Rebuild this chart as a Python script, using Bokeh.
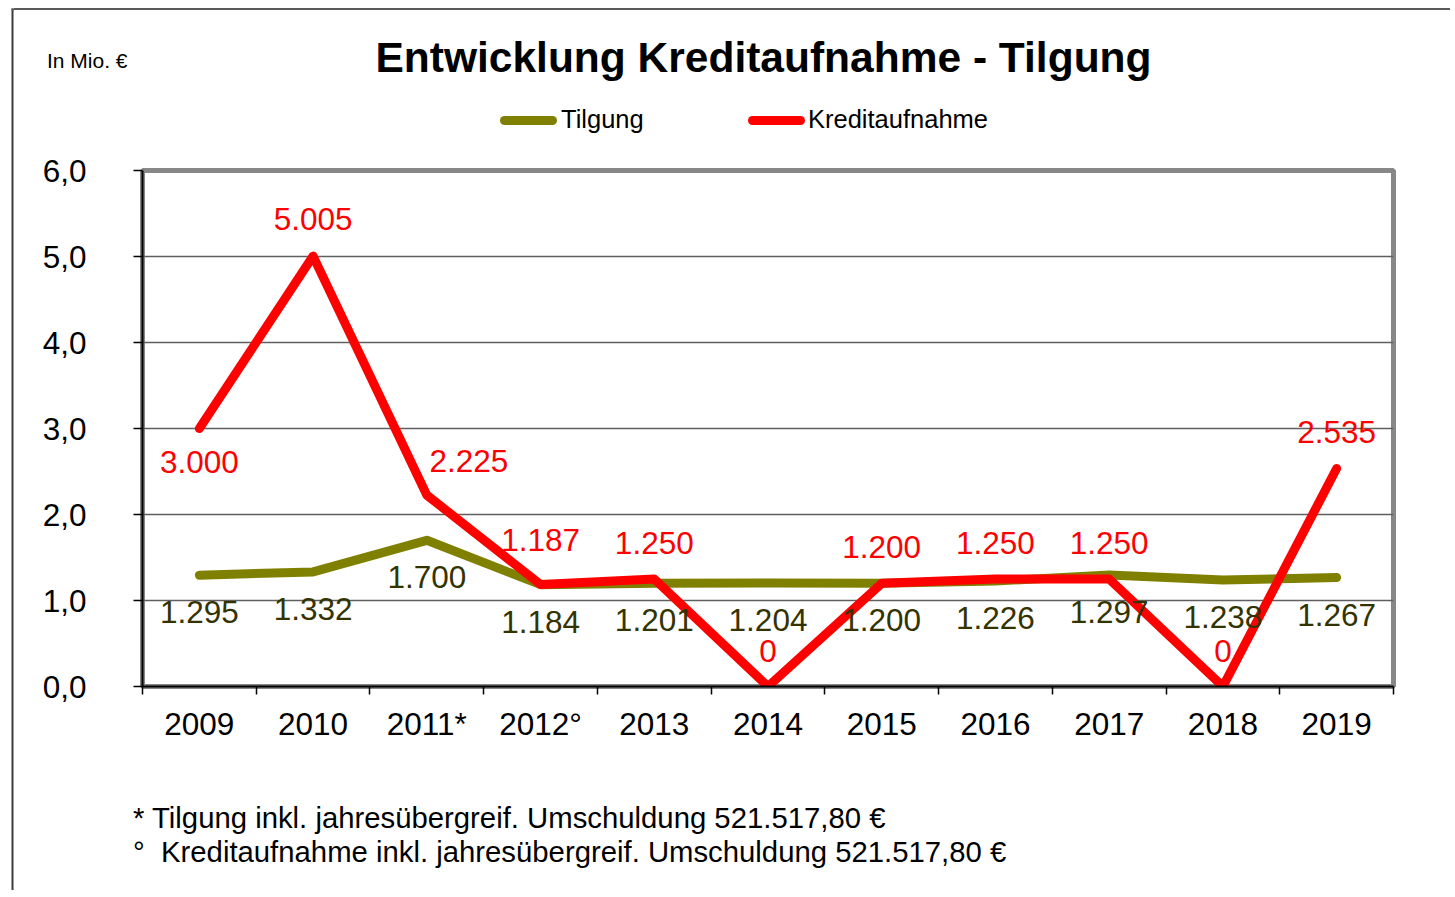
from bokeh.plotting import figure
from bokeh.layouts import row, column
from bokeh.models import (FixedTicker, Div, BoxAnnotation, ColumnDataSource, Range1d)
from bokeh.embed import file_html
from bokeh.resources import INLINE
from bokeh.core.properties import value

# ---------------- data ----------------
years = ["2009", "2010", "2011*", "2012°", "2013", "2014", "2015", "2016", "2017", "2018", "2019"]
tilgung = [1.295, 1.332, 1.700, 1.184, 1.201, 1.204, 1.200, 1.226, 1.297, 1.238, 1.267]
kredit = [3.000, 5.005, 2.225, 1.187, 1.250, 0.0, 1.200, 1.250, 1.250, 0.0, 2.535]
y_ticks = [0, 1, 2, 3, 4, 5, 6]
y_tick_labels = ["0,0", "1,0", "2,0", "3,0", "4,0", "5,0", "6,0"]
series_names = ["Tilgung", "Kreditaufnahme"]

title_text = "Entwicklung Kreditaufnahme - Tilgung"
unit_text = "In Mio. €"
foot1 = "* Tilgung inkl. jahresübergreif. Umschuldung 521.517,80 €"
foot2 = "°  Kreditaufnahme inkl. jahresübergreif. Umschuldung 521.517,80 €"

# label placement (pixels, screen: +y = down)
kredit_dx = [0, 0, 42, 0, 0, 0, 0, 0, 0, 0, 0]
kredit_dy = [33, -37, -34, -44, -36, -36, -36, -36, -36, -36, -36]
tilgung_dy = [37] * 11

FONT = "Liberation Sans"
OLIVE = "#808000"
RED = "#FF0000"
BORDER_L = "#3c3c3c"
BORDER_T = "#5a5a5a"
LW = 9

W = 1450          # total width
STRIP = 14        # left strip carrying the outer chart border
TOP_H, MAIN_H, BOT_H = 150, 610, 130
H = TOP_H + MAIN_H + BOT_H


def fmt(v):
    return "0" if v == 0 else f"{v:.3f}"


# ---------------- left strip (outer chart border) ----------------
strip = figure(width=STRIP, height=H, x_range=Range1d(0, STRIP), y_range=Range1d(H, 0),
               output_backend="svg", toolbar_location=None,
               x_axis_location=None, y_axis_location=None, min_border=0)
strip.outline_line_color = None
strip.xgrid.visible = False
strip.ygrid.visible = False
strip.add_layout(BoxAnnotation(left=12, right=100000, top=9, bottom=100000,
                               fill_alpha=0, line_alpha=0))
strip.add_layout(BoxAnnotation(left=11, right=13, top=8, bottom=100000,
                               fill_color=BORDER_L, fill_alpha=1, line_alpha=0))
strip.add_layout(BoxAnnotation(left=11, right=100000, top=8, bottom=10,
                               fill_color=BORDER_T, fill_alpha=1, line_alpha=0))


def span(left, cy, text, size, extra=""):
    return (f'<span style="position:absolute;left:{left}px;top:{cy - size / 2}px;'
            f'font-size:{size}px;line-height:1;white-space:pre;{extra}">{text}</span>')


def swatch(left, cy, color, length=57, thick=9):
    return (f'<div style="position:absolute;left:{left}px;top:{cy - thick / 2}px;'
            f'width:{length}px;height:{thick}px;border-radius:{thick / 2}px;'
            f'background:{color};"></div>')


# ---------------- top: title, unit, legend ----------------
ox = STRIP
top_html = (
    f'<div style="position:relative;width:{W - STRIP}px;height:{TOP_H}px;'
    f'font-family:\'{FONT}\';color:black;overflow:hidden;">'
    f'<div style="position:absolute;left:0;top:8px;width:100%;height:2px;background:{BORDER_T};"></div>'
    + span(47 - ox, 60, unit_text, 21)
    + f'<span style="position:absolute;left:{763.5 - ox}px;top:{58 - 21.25}px;'
      f'transform:translateX(-50%);font-size:42.5px;line-height:1;font-weight:bold;'
      f'white-space:pre;">{title_text}</span>'
    + swatch(500 - ox, 120, OLIVE) + span(561 - ox, 120, series_names[0], 25.5)
    + swatch(748 - ox, 120, RED) + span(808 - ox, 120, series_names[1], 25.5)
    + '</div>'
)
top = Div(text=top_html, width=W - STRIP, height=TOP_H, margin=0)

# ---------------- main chart ----------------
xs = list(range(len(years)))
src = ColumnDataSource(dict(
    x=xs, tilgung=tilgung, kredit=kredit,
    tl=[fmt(v) for v in tilgung], kl=[fmt(v) for v in kredit],
    kdx=kredit_dx, kdy=kredit_dy, tdy=tilgung_dy,
))

p = figure(width=W - STRIP, height=MAIN_H,
           x_range=Range1d(-0.5, len(years) - 0.5), y_range=Range1d(0, 6),
           output_backend="svg", toolbar_location=None,
           min_border_left=142 - STRIP, min_border_right=W - 1393,
           min_border_top=170 - TOP_H, min_border_bottom=TOP_H + MAIN_H - 686)
p.outline_line_color = "#878787"
p.outline_line_width = 5
p.background_fill_color = "white"
p.border_fill_color = "white"

p.xaxis.ticker = FixedTicker(ticks=xs, minor_ticks=[i - 0.5 for i in range(len(years) + 1)])
p.xaxis.major_label_overrides = {i: years[i] for i in xs}
p.xaxis.major_tick_out = 0
p.xaxis.major_tick_in = 0
p.xaxis.minor_tick_out = 8
p.xaxis.minor_tick_in = 0
p.xaxis.minor_tick_line_color = "black"
p.xaxis.minor_tick_line_width = 1.5
p.xaxis.axis_line_color = "black"
p.xaxis.axis_line_width = 2
p.xaxis.major_label_text_font = FONT
p.xaxis.major_label_text_font_size = "31.5px"
p.xaxis.major_label_text_color = "black"
p.xaxis.major_label_standoff = 11

p.yaxis.ticker = FixedTicker(ticks=y_ticks, minor_ticks=[])
p.yaxis.major_label_overrides = {t: l for t, l in zip(y_ticks, y_tick_labels)}
p.yaxis.major_tick_out = 9
p.yaxis.major_tick_in = 0
p.yaxis.major_tick_line_color = "black"
p.yaxis.major_tick_line_width = 1.5
p.yaxis.axis_line_color = "black"
p.yaxis.axis_line_width = 2
p.yaxis.major_label_text_font = FONT
p.yaxis.major_label_text_font_size = "31.5px"
p.yaxis.major_label_text_color = "black"
p.yaxis.major_label_standoff = 47

p.xgrid.visible = False
p.ygrid.grid_line_color = "#5f5f5f"
p.ygrid.grid_line_width = 1.5

p.line("x", "tilgung", source=src, line_color=OLIVE, line_width=LW,
       line_cap="round", line_join="round", legend_label=series_names[0])
p.line("x", "kredit", source=src, line_color=RED, line_width=LW,
       line_cap="round", line_join="round", legend_label=series_names[1])
p.legend.visible = False   # legend is drawn in the header above the chart

p.text(x="x", y="tilgung", text="tl", source=src, y_offset="tdy",
       text_align="center", text_baseline="middle", text_font=value(FONT),
       text_font_size="31.5px", text_color="#333300")
p.text(x="x", y="kredit", text="kl", source=src, x_offset="kdx", y_offset="kdy",
       text_align="center", text_baseline="middle", text_font=value(FONT),
       text_font_size="31.5px", text_color=RED)

# ---------------- bottom: footnotes ----------------
oy = TOP_H + MAIN_H
bot_html = (
    f'<div style="position:relative;width:{W - STRIP}px;height:{BOT_H}px;'
    f'font-family:\'{FONT}\';color:black;overflow:hidden;">'
    + span(133 - ox, 818 - oy, foot1, 29.3)
    + span(133 - ox, 852 - oy, foot2, 29.3)
    + '</div>'
)
bot = Div(text=bot_html, width=W - STRIP, height=BOT_H, margin=0)

layout = row(strip, column(top, p, bot, spacing=0), spacing=0)
open("out.html", "w").write(file_html(layout, INLINE))
